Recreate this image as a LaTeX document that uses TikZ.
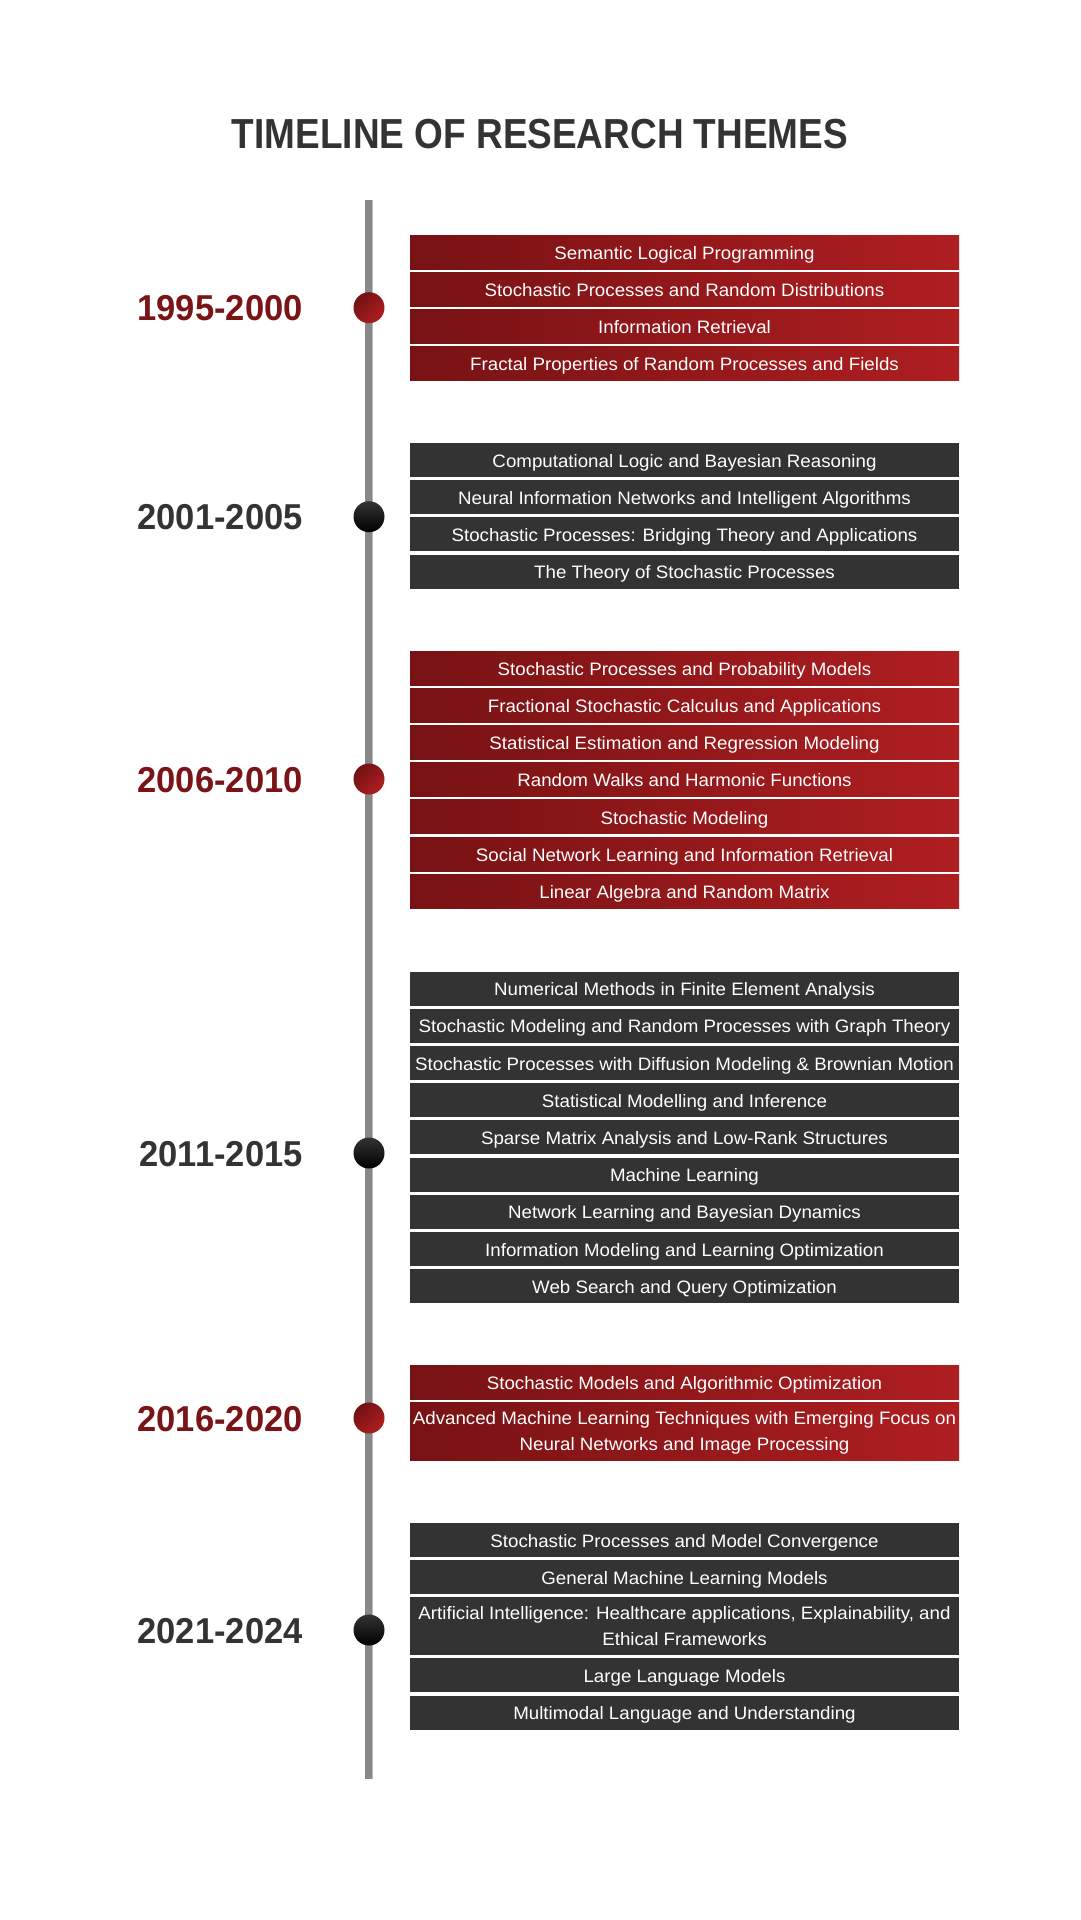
\documentclass[tikz,border=0pt]{standalone}
\usepackage{fontspec}
\setmainfont{Liberation Sans}
\newfontfamily\titlefamily{Liberation Sans}[FakeStretch=0.88]
\newfontfamily\yearfamily{Liberation Sans}[FakeStretch=0.96]
\newfontfamily\themefamily{Liberation Sans}[FakeStretch=1.04]

\definecolor{ink}{HTML}{333333}
\definecolor{crimsonL}{HTML}{771214}
\definecolor{crimsonR}{HTML}{AF1E21}
\definecolor{yearred}{HTML}{7A1416}
\definecolor{axisgray}{HTML}{888888}
\definecolor{axislight}{HTML}{BBBBBB}

\tikzset{
  theme/.style={rectangle, minimum width=549pt, minimum height=34pt, inner sep=0pt,
    text=white, font=\themefamily\fontsize{18}{25.7}\selectfont, align=center,
    text height=14.4pt, text depth=0pt},
  redtheme/.style={theme, left color=crimsonL, right color=crimsonR},
  darktheme/.style={theme, fill=ink},
  twoline/.style={minimum height=57.8pt, text height=37.5pt},
  year/.style={anchor=base east, inner sep=0pt,
    font=\yearfamily\bfseries\fontsize{36}{40}\selectfont},
  dot/.style={circle, minimum size=31pt, inner sep=0pt},
  reddot/.style={dot, top color=crimsonL!95!black, bottom color=crimsonR, shading angle=45},
  darkdot/.style={dot, top color=ink, bottom color=black},
}

\begin{document}
\begin{tikzpicture}[x=1pt,y=-1pt]
  \useasboundingbox (0,0) rectangle (1080,1920);
  \fill[white] (0,0) rectangle (1080,1920);

  % heading
  \node[anchor=base, inner sep=0pt, text=ink,
        font=\titlefamily\bfseries\fontsize{42}{46}\selectfont] (title) at (540,148)
        {TIMELINE OF RESEARCH THEMES};

  % vertical axis
  \coordinate (axtop) at (369,200);
  \coordinate (axbot) at (369,1779);
  \draw[line width=8pt, axisgray] (axtop) -- (axbot);
  \draw[line width=1pt, axislight] ([xshift=3.5pt]axtop) -- ([xshift=3.5pt]axbot);

  % ---------- 1995-2000 ----------
  \node[reddot] (d1) at (369,307.7) {};
  \node[year, text=yearred] (y1) at (303,320.7) {1995-2000};
  \node[redtheme] (t11) at (684.5,252.0) {Semantic Logical Programming};
  \node[redtheme] (t12) at (684.5,289.2) {Stochastic Processes and Random Distributions};
  \node[redtheme] (t13) at (684.5,326.4) {Information Retrieval};
  \node[redtheme] (t14) at (684.5,363.6) {Fractal Properties of Random Processes and Fields};

  % ---------- 2001-2005 ----------
  \node[darkdot] (d2) at (369,516.7) {};
  \node[year, text=ink] (y2) at (303,529.7) {2001-2005};
  \node[darktheme] (t21) at (684.5,460.0) {Computational Logic and Bayesian Reasoning};
  \node[darktheme] (t22) at (684.5,497.2) {Neural Information Networks and Intelligent Algorithms};
  \node[darktheme] (t23) at (684.5,534.4) {Stochastic Processes: Bridging Theory and Applications};
  \node[darktheme] (t24) at (684.5,571.6) {The Theory of Stochastic Processes};

  % ---------- 2006-2010 ----------
  \node[reddot] (d3) at (369,779.0) {};
  \node[year, text=yearred] (y3) at (303,792.0) {2006-2010};
  \node[redtheme] (t31) at (684.5,668.0) {Stochastic Processes and Probability Models};
  \node[redtheme] (t32) at (684.5,705.2) {Fractional Stochastic Calculus and Applications};
  \node[redtheme] (t33) at (684.5,742.4) {Statistical Estimation and Regression Modeling};
  \node[redtheme] (t34) at (684.5,779.6) {Random Walks and Harmonic Functions};
  \node[redtheme] (t35) at (684.5,816.8) {Stochastic Modeling};
  \node[redtheme] (t36) at (684.5,854.0) {Social Network Learning and Information Retrieval};
  \node[redtheme] (t37) at (684.5,891.2) {Linear Algebra and Random Matrix};

  % ---------- 2011-2015 ----------
  \node[darkdot] (d4) at (369,1153.0) {};
  \node[year, text=ink] (y4) at (303,1166.0) {2011-2015};
  \node[darktheme] (t41) at (684.5,988.5) {Numerical Methods in Finite Element Analysis};
  \node[darktheme] (t42) at (684.5,1025.7) {Stochastic Modeling and Random Processes with Graph Theory};
  \node[darktheme] (t43) at (684.5,1062.9) {Stochastic Processes with Diffusion Modeling \& Brownian Motion};
  \node[darktheme] (t44) at (684.5,1100.1) {Statistical Modelling and Inference};
  \node[darktheme] (t45) at (684.5,1137.3) {Sparse Matrix Analysis and Low-Rank Structures};
  \node[darktheme] (t46) at (684.5,1174.5) {Machine Learning};
  \node[darktheme] (t47) at (684.5,1211.7) {Network Learning and Bayesian Dynamics};
  \node[darktheme] (t48) at (684.5,1248.9) {Information Modeling and Learning Optimization};
  \node[darktheme] (t49) at (684.5,1286.1) {Web Search and Query Optimization};

  % ---------- 2016-2020 ----------
  \node[reddot] (d5) at (369,1418.0) {};
  \node[year, text=yearred] (y5) at (303,1431.0) {2016-2020};
  \node[redtheme] (t51) at (684.5,1382.5) {Stochastic Models and Algorithmic Optimization};
  \node[redtheme, twoline] (t52) at (684.5,1431.6)
    {Advanced Machine Learning Techniques with Emerging Focus on\\Neural Networks and Image Processing};

  % ---------- 2021-2024 ----------
  \node[darkdot] (d6) at (369,1630.0) {};
  \node[year, text=ink] (y6) at (303,1643.0) {2021-2024};
  \node[darktheme] (t61) at (684.5,1540.0) {Stochastic Processes and Model Convergence};
  \node[darktheme] (t62) at (684.5,1577.2) {General Machine Learning Models};
  \node[darktheme, twoline] (t63) at (684.5,1626.3)
    {Artificial Intelligence: Healthcare applications, Explainability, and\\Ethical Frameworks};
  \node[darktheme] (t64) at (684.5,1675.4) {Large Language Models};
  \node[darktheme] (t65) at (684.5,1712.6) {Multimodal Language and Understanding};
\end{tikzpicture}
\end{document}
